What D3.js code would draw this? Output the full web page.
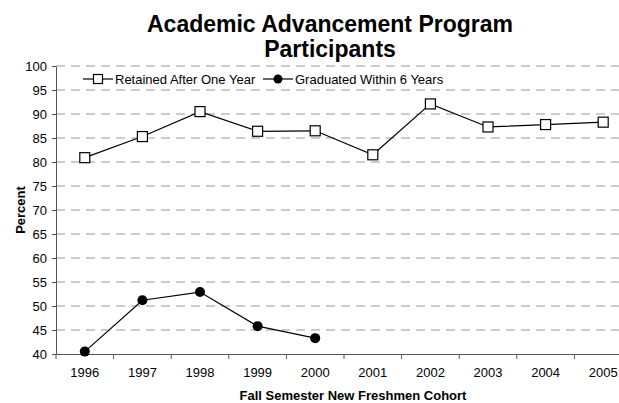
<!DOCTYPE html>
<html>
<head>
<meta charset="utf-8">
<script src="https://cdn.jsdelivr.net/npm/d3@7"></script>
<style>
  html, body { margin: 0; padding: 0; background: #fff; }
  svg { display: block; font-family: "Liberation Sans", Arial, sans-serif; }
</style>
</head>
<body>
<svg id="chart" width="619" height="403"></svg>
<script>
// Cohort years and the two outcome series (percent)
const years = ["1996", "1997", "1998", "1999", "2000", "2001", "2002", "2003", "2004", "2005"];
const retained = [80.9, 85.3, 90.5, 86.4, 86.5, 81.5, 92.1, 87.3, 87.8, 88.3];
const graduated = [40.5, 51.2, 52.9, 45.8, 43.3, null, null, null, null, null];
const yTicks = [40, 45, 50, 55, 60, 65, 70, 75, 80, 85, 90, 95, 100];

const svg = d3.select("#chart");
const plot = { left: 56, right: 632, top: 66, bottom: 354 };

const x = d3.scaleBand().domain(years).range([plot.left, plot.right]).padding(0);
const y = d3.scaleLinear().domain([40, 100]).range([plot.bottom, plot.top]);
const cx = d => x(d) + x.bandwidth() / 2;
const FONT = "'Liberation Sans', Arial, sans-serif";

// Title
const title = svg.append("text")
  .attr("x", 330).attr("y", 32)
  .attr("text-anchor", "middle")
  .attr("font-size", 23).attr("font-weight", "bold");
title.append("tspan").attr("x", 330).attr("dy", 0).text("Academic Advancement Program");
title.append("tspan").attr("x", 330).attr("dy", 24.5).text("Participants");

// Dashed horizontal gridlines
svg.append("g")
  .selectAll("line")
  .data(yTicks.filter(t => t > 40))
  .join("line")
  .attr("x1", plot.left).attr("x2", plot.right)
  .attr("y1", d => y(d)).attr("y2", d => y(d))
  .attr("stroke", "#999").attr("stroke-width", 1.2)
  .attr("stroke-dasharray", "9,6");

// Y axis
const yAxis = svg.append("g")
  .attr("transform", `translate(${plot.left},0)`)
  .call(d3.axisLeft(y).tickValues(yTicks).tickSize(4).tickPadding(5).tickSizeOuter(0));
yAxis.select(".domain").attr("stroke", "#555");
yAxis.selectAll(".tick line").attr("stroke", "#555");
yAxis.selectAll(".tick text").attr("font-size", 13).attr("fill", "#000").attr("font-family", FONT);

// X axis: category labels centred, tick marks on band boundaries
const xAxis = svg.append("g")
  .attr("transform", `translate(0,${plot.bottom})`)
  .call(d3.axisBottom(x).tickSize(0).tickPadding(14).tickSizeOuter(0));
xAxis.select(".domain").attr("stroke", "#555");
xAxis.selectAll(".tick text").attr("font-size", 13).attr("fill", "#000").attr("font-family", FONT);
svg.append("g")
  .selectAll("line")
  .data(years)
  .join("line")
  .attr("x1", d => x(d)).attr("x2", d => x(d))
  .attr("y1", plot.bottom).attr("y2", plot.bottom + 5)
  .attr("stroke", "#555");

// Axis titles
svg.append("text")
  .attr("x", 353).attr("y", 400)
  .attr("text-anchor", "middle")
  .attr("font-size", 13).attr("font-weight", "bold")
  .text("Fall Semester New Freshmen Cohort");
svg.append("text")
  .attr("transform", `translate(25,${(plot.top + plot.bottom) / 2}) rotate(-90)`)
  .attr("text-anchor", "middle")
  .attr("font-size", 13).attr("font-weight", "bold")
  .text("Percent");

// Series lines
const line = d3.line()
  .defined(d => d.v != null)
  .x(d => cx(d.year)).y(d => y(d.v));
const toPts = arr => years.map((yr, i) => ({ year: yr, v: arr[i] }));

svg.append("path")
  .datum(toPts(retained))
  .attr("d", line).attr("fill", "none").attr("stroke", "#000").attr("stroke-width", 1.2);
svg.append("path")
  .datum(toPts(graduated))
  .attr("d", line).attr("fill", "none").attr("stroke", "#000").attr("stroke-width", 1.2);

// Markers
svg.append("g")
  .selectAll("rect")
  .data(toPts(retained))
  .join("rect")
  .attr("x", d => cx(d.year) - 5).attr("y", d => y(d.v) - 5)
  .attr("width", 10).attr("height", 10)
  .attr("fill", "#fff").attr("stroke", "#000").attr("stroke-width", 1.2);
svg.append("g")
  .selectAll("circle")
  .data(toPts(graduated).filter(d => d.v != null))
  .join("circle")
  .attr("cx", d => cx(d.year)).attr("cy", d => y(d.v))
  .attr("r", 5).attr("fill", "#000");

// Legend
const legY = 79;
const leg = svg.append("g").attr("font-size", 13);
leg.append("line").attr("x1", 83).attr("x2", 113).attr("y1", legY).attr("y2", legY).attr("stroke", "#000").attr("stroke-width", 1.2);
leg.append("rect").attr("x", 93.5).attr("y", legY - 4.5).attr("width", 9).attr("height", 9)
  .attr("fill", "#fff").attr("stroke", "#000").attr("stroke-width", 1.2);
leg.append("text").attr("x", 115).attr("y", legY + 4.6).text("Retained After One Year");
leg.append("line").attr("x1", 263).attr("x2", 293).attr("y1", legY).attr("y2", legY).attr("stroke", "#000").attr("stroke-width", 1.2);
leg.append("circle").attr("cx", 278).attr("cy", legY).attr("r", 4.5).attr("fill", "#000");
leg.append("text").attr("x", 295).attr("y", legY + 4.6).text("Graduated Within 6 Years");
</script>
</body>
</html>
